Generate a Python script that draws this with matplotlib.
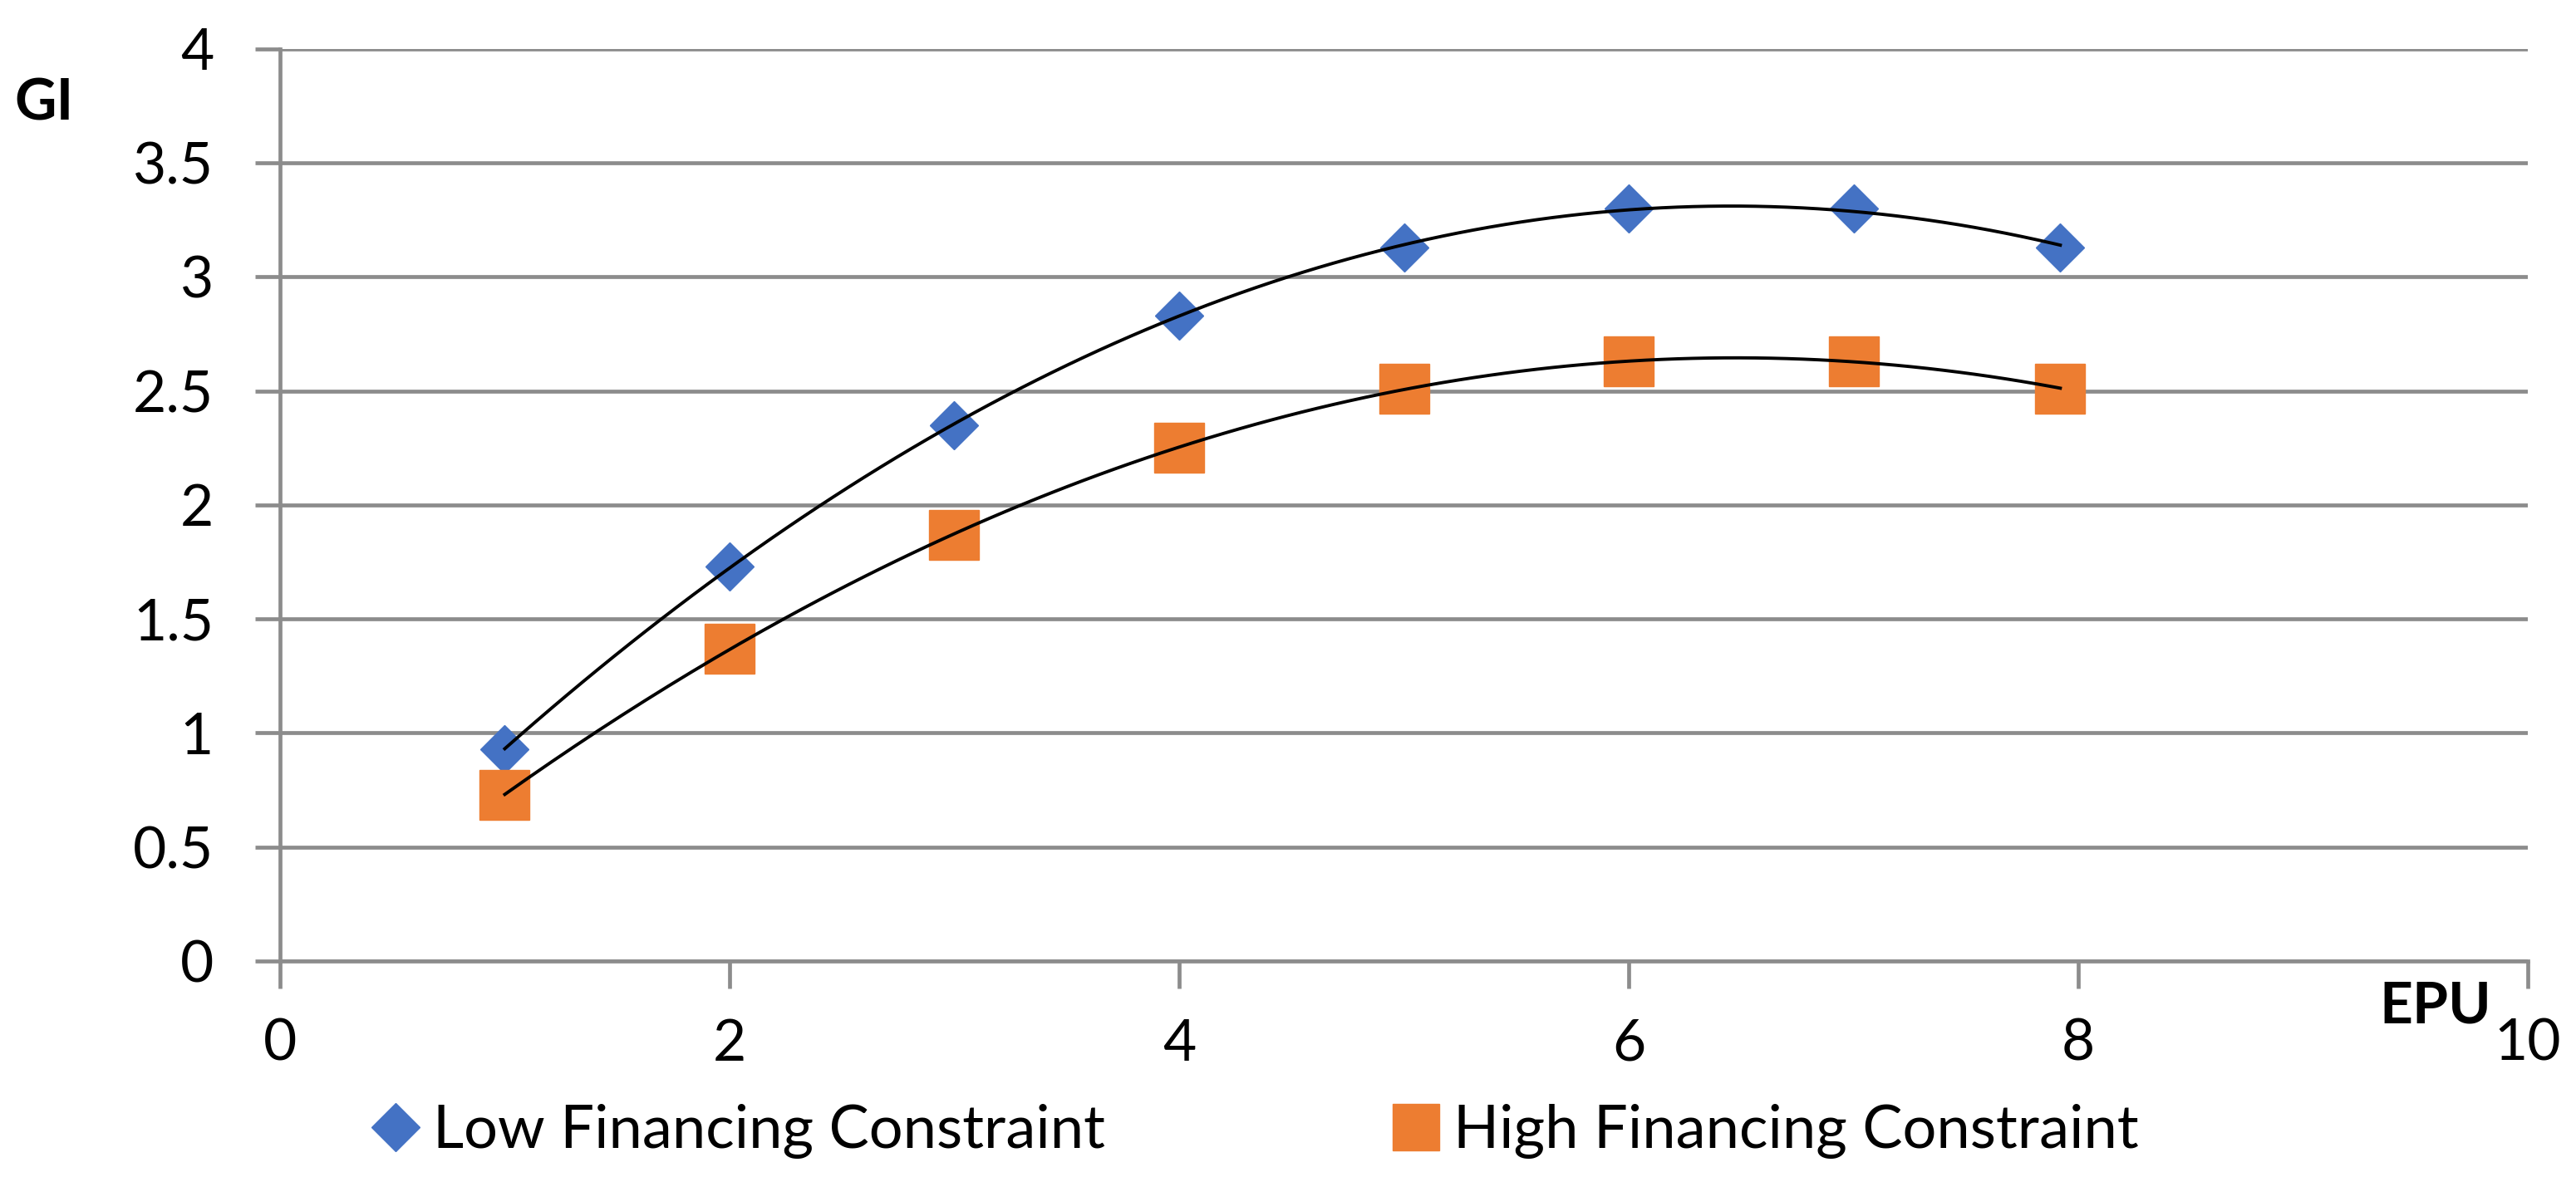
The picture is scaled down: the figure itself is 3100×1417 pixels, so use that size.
import numpy as np
import matplotlib
matplotlib.use("Agg")
import matplotlib.pyplot as plt
from matplotlib.lines import Line2D

# data
epu = [1, 2, 3, 4, 5, 6, 7, 7.92]
gi_low = [0.93, 1.73, 2.35, 2.83, 3.13, 3.30, 3.30, 3.13]
gi_high = [0.73, 1.37, 1.87, 2.25, 2.51, 2.63, 2.63, 2.51]
series_names = ["Low Financing Constraint", "High Financing Constraint"]
x_ticks = [0, 2, 4, 6, 8, 10]
y_ticks = [0, 0.5, 1, 1.5, 2, 2.5, 3, 3.5, 4]

blue = "#4472C4"
orange = "#ED7D31"
grid_gray = "#8C8C8C"

plt.rcParams['font.family'] = ['Lato', 'DejaVu Sans']

fig = plt.figure(figsize=(31, 14.17), dpi=100)
ax = fig.add_axes([0.1087, 0.1835, 0.8726, 0.775])

ax.plot(epu, gi_low, linestyle="none", marker="D", ms=30, color=blue, zorder=3)
ax.plot(epu, gi_high, linestyle="none", marker="s", ms=43, color=orange, zorder=3)

# polynomial (order 2) trendlines
for ys in (gi_low, gi_high):
    coef = np.polyfit(epu, ys, 2)
    xs = np.linspace(min(epu), max(epu), 200)
    ax.plot(xs, np.polyval(coef, xs), color="black", lw=2.8, zorder=4)

ax.set_xlim(0, 10)
ax.set_ylim(0, 4)
ax.set_xticks(x_ticks)
ax.set_yticks(y_ticks)
ax.set_xticklabels([str(v) for v in x_ticks])
ax.set_yticklabels(["0", "0.5", "1", "1.5", "2", "2.5", "3", "3.5", "4"])

ax.yaxis.grid(True, color=grid_gray, lw=3.4)
ax.set_axisbelow(True)
for s in ["top", "right"]:
    ax.spines[s].set_visible(False)
for s in ["left", "bottom"]:
    ax.spines[s].set_color(grid_gray)
    ax.spines[s].set_linewidth(3.4)

ax.tick_params(axis="y", direction="out", length=21.6, width=3.4, color=grid_gray,
               labelsize=50, pad=36)
ax.tick_params(axis="x", direction="out", length=23.5, width=3.4, color=grid_gray,
               labelsize=50, pad=26)

fig.text(53 / 3100, 1 - 125 / 1417, "GI", fontsize=50, fontweight="bold",
         ha="center", va="center")
fig.text(2931 / 3100, 1 - 1212 / 1417, "EPU", fontsize=50, fontweight="bold",
         ha="center", va="center")

h_low = Line2D([], [], linestyle="none", marker="D", ms=30, color=blue)
h_high = Line2D([], [], linestyle="none", marker="s", ms=40, color=orange)
for h, name, xpos in [(h_low, series_names[0], 440), (h_high, series_names[1], 1668)]:
    fig.legend([h], [name], loc="center left", bbox_to_anchor=(xpos / 3100, 1 - 1362 / 1417),
               frameon=False, fontsize=52, handlelength=1.0, handletextpad=0.12,
               borderpad=0, borderaxespad=0)

fig.savefig("out.png", dpi=100, facecolor="white")
